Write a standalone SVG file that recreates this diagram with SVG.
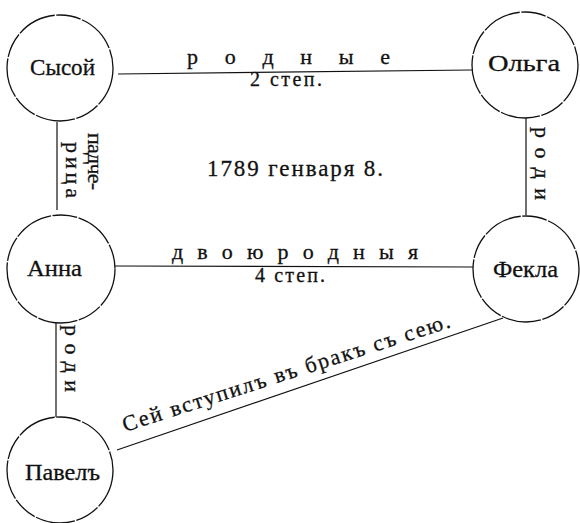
<svg xmlns="http://www.w3.org/2000/svg" width="580" height="523" viewBox="0 0 580 523">
<style>
.n{fill:none;stroke:#111;stroke-width:1.3;stroke-dasharray:40 1.5 25 1.5}
.c{fill:none;stroke:#111;stroke-width:1.2}
text{font-family:"Liberation Serif","DejaVu Serif",serif;fill:#111;stroke:#111;stroke-width:0.3}
.nm{font-size:24px}
.lb{font-size:22px}
.sm{font-size:20px}
</style>
<rect width="580" height="523" fill="#fff"/>
<g id="connectors">
<path class="c" d="M118 74 L472 70"/>
<path class="c" d="M57 122 L57 210"/>
<path class="c" d="M526 118 L526 215"/>
<path class="c" d="M115 266 L473 267"/>
<path class="c" d="M56 323 L56 417"/>
<path class="c" d="M117 450 L503 318"/>
<text class="lb" x="187" y="64" textLength="203" lengthAdjust="spacing">р о д н ы е</text>
<text class="sm" x="250" y="86" textLength="72" lengthAdjust="spacing">2 степ.</text>
<text class="lb" x="172" y="259" textLength="246" lengthAdjust="spacing">д в о ю р о д н ы я</text>
<text class="sm" x="255" y="282" textLength="70" lengthAdjust="spacing">4 степ.</text>
<text class="lb" transform="translate(88,133) rotate(90)" textLength="57" lengthAdjust="spacing">падче-</text>
<text class="lb" transform="translate(66,142) rotate(90)" textLength="56" lengthAdjust="spacing">рица</text>
<text class="lb" transform="translate(535,127) rotate(90)" textLength="73" lengthAdjust="spacing">роди</text>
<text class="lb" transform="translate(65,325) rotate(90)" textLength="67" lengthAdjust="spacing">роди</text>
<text class="lb" transform="translate(125,432) rotate(-17.8)" textLength="343" lengthAdjust="spacing">Сей  вступилъ въ бракъ съ сею.</text>
</g>
<g id="sysoi"><circle class="n" cx="60" cy="68" r="53"/><text class="nm" x="30" y="75" textLength="65" lengthAdjust="spacingAndGlyphs">Сысой</text></g>
<g id="olga"><circle class="n" cx="525" cy="65" r="53"/><text class="nm" x="488" y="71" textLength="72" lengthAdjust="spacingAndGlyphs">Ольга</text></g>
<g id="anna"><circle class="n" cx="61" cy="269" r="54"/><text class="nm" x="27" y="276" textLength="55" lengthAdjust="spacingAndGlyphs">Анна</text></g>
<g id="fekla"><circle class="n" cx="526" cy="269" r="53"/><text class="nm" x="493" y="277" textLength="65" lengthAdjust="spacingAndGlyphs">Фекла</text></g>
<g id="pavel"><circle class="n" cx="60" cy="470" r="53"/><text class="nm" x="25" y="480" textLength="75" lengthAdjust="spacingAndGlyphs">Павелъ</text></g>
<text x="207" y="176" font-size="23" textLength="176" lengthAdjust="spacing">1789 генваря 8.</text>
</svg>
